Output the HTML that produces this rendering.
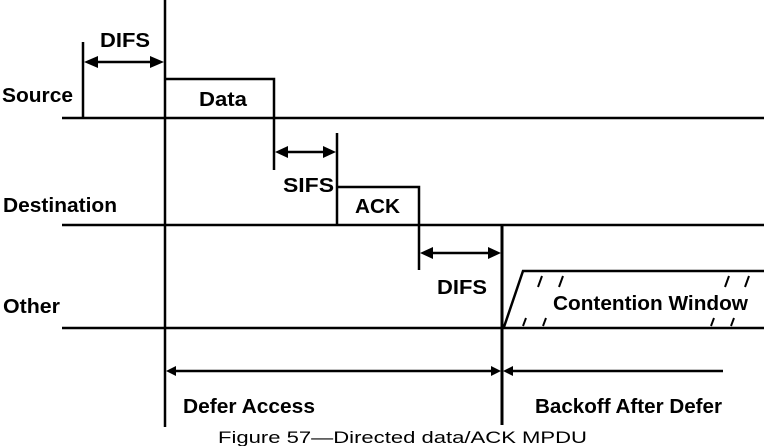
<!DOCTYPE html>
<html>
<head>
<meta charset="utf-8">
<style>
  html, body { margin:0; padding:0; background:#fff; }
  svg { display:block; }
  text { font-family: "Liberation Sans", Arial, sans-serif; fill:#000; }
  .b { font-weight:bold; font-size:20px; }
</style>
</head>
<body>
<svg width="764" height="446" viewBox="0 0 764 446" xmlns="http://www.w3.org/2000/svg">
  <g stroke="#000" stroke-width="2.5" fill="none">
    <line x1="62" y1="118" x2="764" y2="118"/>
    <line x1="62" y1="225" x2="764" y2="225"/>
    <line x1="62" y1="328" x2="764" y2="328"/>
    <line x1="165" y1="0" x2="165" y2="427"/>
    <line x1="83" y1="42" x2="83" y2="118"/>
    <line x1="90" y1="62" x2="158" y2="62"/>
    <path d="M165,79 H274 V170"/>
    <line x1="281" y1="152" x2="330" y2="152"/>
    <line x1="337" y1="133" x2="337" y2="225"/>
    <path d="M337,187 H419 V270"/>
    <line x1="426" y1="253" x2="495" y2="253"/>
    <path d="M504,327 L523,271 H764"/>
    <line x1="170" y1="371" x2="497" y2="371"/>
    <line x1="507" y1="371" x2="723" y2="371"/>
  </g>
  <line x1="502" y1="225" x2="502" y2="425" stroke="#000" stroke-width="3"/>
  <g stroke="#000" stroke-width="2">
    <line x1="538" y1="287" x2="542" y2="276"/>
    <line x1="559" y1="287" x2="563" y2="276"/>
    <line x1="725" y1="287" x2="729" y2="276"/>
    <line x1="745" y1="287" x2="749" y2="276"/>
    <line x1="523" y1="326" x2="526" y2="318"/>
    <line x1="543" y1="326" x2="546" y2="318"/>
    <line x1="711" y1="326" x2="714" y2="318"/>
    <line x1="731" y1="326" x2="734" y2="318"/>
  </g>
  <g fill="#000">
    <polygon points="84,62 98,56 98,68"/>
    <polygon points="164,62 150,56 150,68"/>
    <polygon points="275,152 288,146 288,158"/>
    <polygon points="336,152 323,146 323,158"/>
    <polygon points="420,253 433,247 433,259"/>
    <polygon points="501,253 488,247 488,259"/>
    <polygon points="166,371 176,366 176,376"/>
    <polygon points="501,371 491,366 491,376"/>
    <polygon points="503,371 513,366 513,376"/>
  </g>
  <text class="b" x="100" y="47" textLength="50" lengthAdjust="spacingAndGlyphs">DIFS</text>
  <text class="b" x="2" y="102" textLength="71" lengthAdjust="spacingAndGlyphs">Source</text>
  <text class="b" x="199" y="106" textLength="48" lengthAdjust="spacingAndGlyphs">Data</text>
  <text class="b" x="283" y="192" textLength="51" lengthAdjust="spacingAndGlyphs">SIFS</text>
  <text class="b" x="3" y="212" textLength="114" lengthAdjust="spacingAndGlyphs">Destination</text>
  <text class="b" x="355" y="213" textLength="45" lengthAdjust="spacingAndGlyphs">ACK</text>
  <text class="b" x="437" y="294" textLength="50" lengthAdjust="spacingAndGlyphs">DIFS</text>
  <text class="b" x="3" y="313" textLength="57" lengthAdjust="spacingAndGlyphs">Other</text>
  <text class="b" x="553" y="310" textLength="195" lengthAdjust="spacingAndGlyphs">Contention Window</text>
  <text class="b" x="183" y="413" textLength="132" lengthAdjust="spacingAndGlyphs">Defer Access</text>
  <text class="b" x="535" y="413" textLength="187" lengthAdjust="spacingAndGlyphs">Backoff After Defer</text>
  <text x="218" y="443" font-size="16.5" textLength="369" lengthAdjust="spacingAndGlyphs">Figure 57—Directed data/ACK MPDU</text>
</svg>
</body>
</html>
